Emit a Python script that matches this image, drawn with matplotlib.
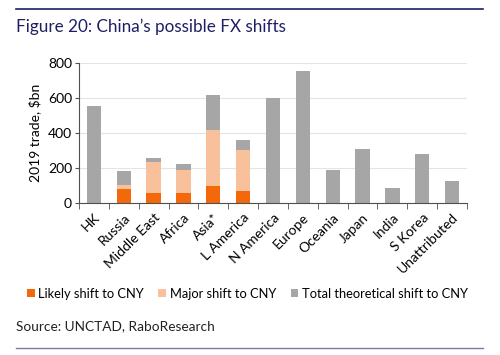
import numpy as np
import matplotlib.pyplot as plt
from matplotlib.ticker import FixedLocator

plt.rcParams['font.family'] = ['Lato', 'DejaVu Sans']

regions = ["HK", "Russia", "Middle East", "Africa", "Asia*", "L America",
           "N America", "Europe", "Oceania", "Japan", "India", "S Korea",
           "Unattributed"]
likely = [0, 80, 55, 55, 100, 70, 0, 0, 0, 0, 0, 0, 0]
major = [0, 105, 232, 190, 420, 302, 0, 0, 0, 0, 0, 0, 0]
total = [558, 183, 255, 225, 620, 360, 603, 757, 190, 310, 88, 278, 127]

c_likely = "#F4680C"
c_major = "#F9C09C"
c_total = "#A6A6A6"
navy = "#1E1E66"

fig = plt.figure(figsize=(5, 3.55), dpi=100)
ax = fig.add_axes([0.158, 0.428, 0.776, 0.394])

x = np.arange(len(regions))
w = 0.48
likely = np.array(likely)
major = np.array(major)
total = np.array(total)
ax.bar(x, total - major, w, bottom=major, color=c_total, zorder=2,
       label="Total theoretical shift to CNY")
ax.bar(x, major - likely, w, bottom=likely, color=c_major, zorder=2,
       label="Major shift to CNY")
ax.bar(x, likely, w, color=c_likely, zorder=2, label="Likely shift to CNY")

ax.set_xlim(-0.5, len(regions) - 0.5)
ax.set_ylim(0, 800)
ax.set_yticks([0, 200, 400, 600, 800])
ax.yaxis.grid(True, color="#E4E4E4", linewidth=0.8, zorder=0)
for s in ["top", "right"]:
    ax.spines[s].set_visible(False)
ax.spines["left"].set_color("#505050")
ax.spines["bottom"].set_color("#505050")
ax.tick_params(axis="y", length=3, color="#505050", labelsize=10, pad=2)

ax.set_xticks(x)
ax.set_xticklabels(regions, rotation=45, ha="right", rotation_mode="anchor",
                   fontsize=10)
ax.tick_params(axis="x", which="major", length=0, pad=6)
ax.xaxis.set_minor_locator(FixedLocator(np.arange(-0.5, len(regions), 1)))
ax.tick_params(axis="x", which="minor", length=4, color="#505050")
ax.set_ylabel("2019 trade, $bn", fontsize=10, labelpad=5)

fig.lines.append(plt.Line2D([0.032, 0.965], [0.975, 0.975],
                            transform=fig.transFigure, color=navy, lw=1.2))
fig.lines.append(plt.Line2D([0.032, 0.965], [0.02, 0.02],
                            transform=fig.transFigure, color="#7A7AA8", lw=1.0))
fig.text(0.032, 0.925, "Figure 20: China\u2019s possible FX shifts",
         fontsize=12.3, color=navy, va="center")
fig.text(0.032, 0.08, "Source: UNCTAD, RaboResearch", fontsize=9.8,
         color="#222222", va="center")

handles, labels = ax.get_legend_handles_labels()
fig.legend(handles[::-1], labels[::-1], loc="center", ncol=3,
           bbox_to_anchor=(0.495, 0.172), frameon=False, fontsize=9.3,
           handlelength=0.6, handleheight=0.6, handletextpad=0.3,
           columnspacing=1.1)

fig.savefig("out.png", dpi=100)
